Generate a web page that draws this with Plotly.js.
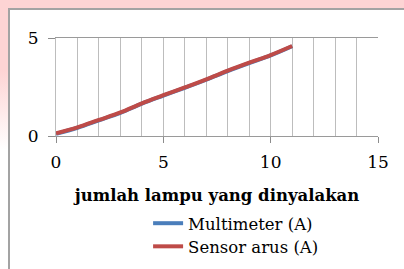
<!DOCTYPE html>
<html>
<head>
<meta charset="utf-8">
<script src="https://cdn.plot.ly/plotly-3.0.1.min.js"></script>
<style>
  html, body { margin: 0; padding: 0; width: 404px; height: 269px; overflow: hidden; background: #ffffff; }
  #topstrip { position: absolute; left: 0; top: 0; width: 404px; height: 9px; background: #fdd4d4; }
  #leftstrip { position: absolute; left: 0; top: 0; width: 9px; height: 269px;
    background: linear-gradient(to bottom, #fdd4d4 0px, #fdd4d4 70px, #ffffff 150px); }
  #topborder { position: absolute; left: 9px; top: 8px; width: 395px; height: 2px; background: #a3a3a3; }
  #leftborder { position: absolute; left: 8px; top: 8px; width: 2px; height: 261px; background: #a3a3a3; }
  #chart { position: absolute; left: 0; top: 0; width: 404px; height: 269px; }
</style>
</head>
<body>
<div id="topstrip"></div>
<div id="leftstrip"></div>
<div id="topborder"></div>
<div id="leftborder"></div>
<div id="chart"></div>
<script>
// Data
const lampCount = [0, 1, 2, 3, 4, 5, 6, 7, 8, 9, 10, 11];
const multimeterA = [0.11, 0.42, 0.80, 1.18, 1.65, 2.06, 2.46, 2.87, 3.31, 3.72, 4.11, 4.58];
const sensorArusA = [0.14, 0.44, 0.82, 1.20, 1.67, 2.08, 2.48, 2.89, 3.33, 3.74, 4.13, 4.59];
const seriesNames = ["Multimeter (A)", "Sensor arus (A)"];
const xTitle = "jumlah lampu yang dinyalakan";

const serif = "DejaVu Serif";

const traces = [
  { x: lampCount, y: multimeterA, name: seriesNames[0], type: "scatter", mode: "lines",
    line: { color: "#4a7ebb", width: 4, shape: "spline" }, legend: "legend" },
  { x: lampCount, y: sensorArusA, name: seriesNames[1], type: "scatter", mode: "lines",
    line: { color: "#be4b48", width: 4, shape: "spline" }, legend: "legend2" }
];

const legendBase = {
  orientation: "v", xanchor: "left", yanchor: "top",
  font: { family: serif, size: 16.5, color: "#000" },
  bgcolor: "rgba(0,0,0,0)", itemwidth: 30
};

const layout = {
  width: 404, height: 269,
  margin: { l: 56, r: 26, t: 38, b: 133, autoexpand: false },
  paper_bgcolor: "rgba(0,0,0,0)",
  plot_bgcolor: "rgba(0,0,0,0)",
  font: { family: serif, size: 17, color: "#000" },
  showlegend: true,
  legend: Object.assign({}, legendBase, { x: 0.286, y: -0.714 }),
  legend2: Object.assign({}, legendBase, { x: 0.286, y: -0.95 }),
  xaxis: {
    range: [0, 15], dtick: 5, tick0: 0,
    showgrid: true, gridcolor: "#bdbdbd", gridwidth: 1,
    minor: { dtick: 1, showgrid: true, gridcolor: "#bdbdbd", gridwidth: 1, ticks: "" },
    showline: true, mirror: true, linecolor: "#9a9a9a", linewidth: 1,
    ticks: "outside", ticklen: 6, tickcolor: "#8c8c8c",
    zeroline: false, automargin: false, ticklabelstandoff: 5,
    title: { text: "<b>" + xTitle + "</b>", font: { family: serif, size: 16.5, color: "#000" }, standoff: 18 },
    tickfont: { family: serif, size: 17, color: "#000" }
  },
  yaxis: {
    range: [0, 5], dtick: 5, tick0: 0,
    showgrid: true, gridcolor: "#bdbdbd", gridwidth: 1,
    showline: true, linecolor: "#bdbdbd", linewidth: 1,
    ticks: "outside", ticklen: 7, tickcolor: "#8c8c8c",
    zeroline: false, automargin: false, ticklabelstandoff: 6,
    tickfont: { family: serif, size: 17, color: "#000" }
  }
};

Plotly.newPlot("chart", traces, layout, { displayModeBar: false, staticPlot: true });
</script>
</body>
</html>
